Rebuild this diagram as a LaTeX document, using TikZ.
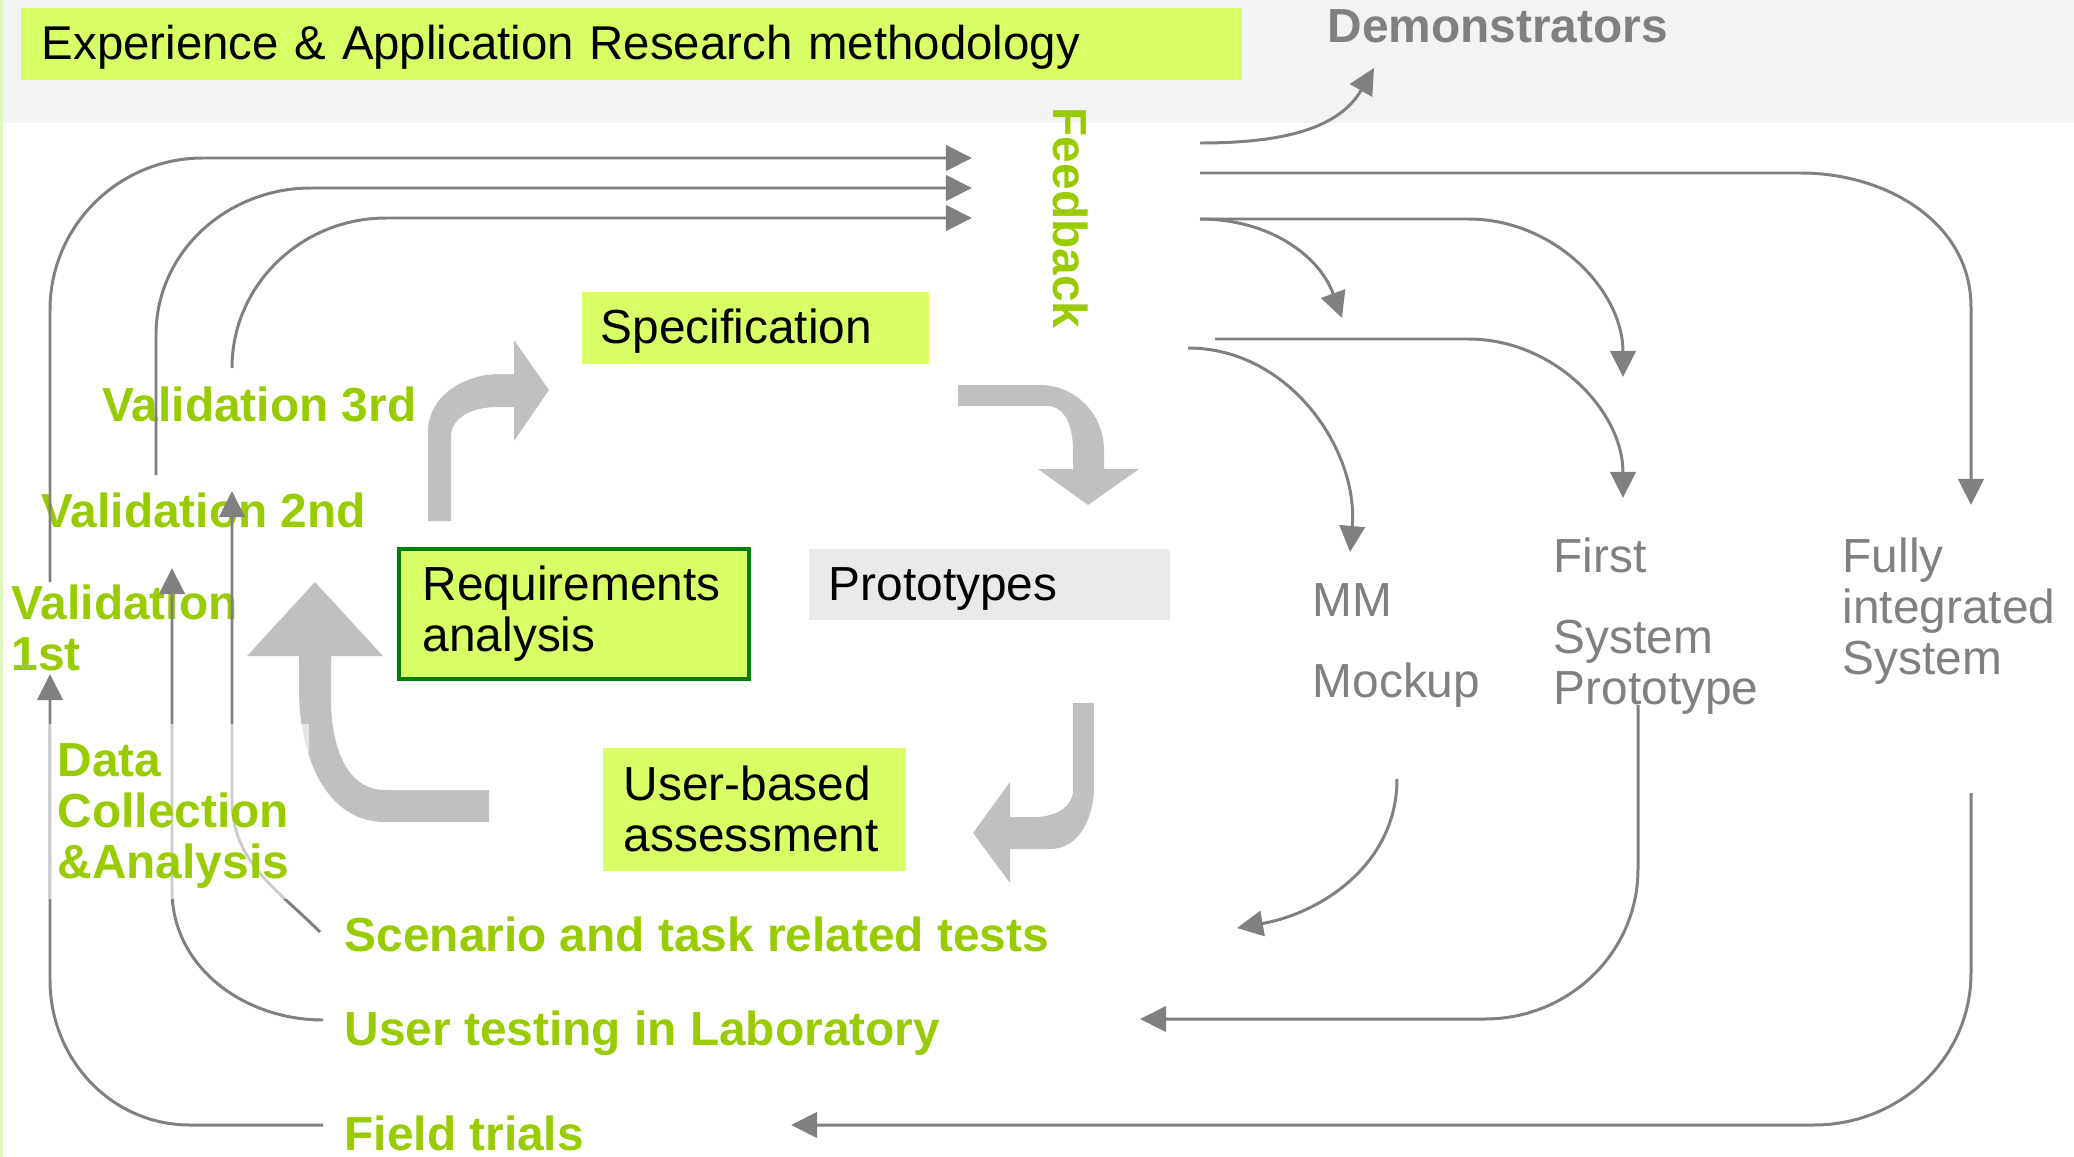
\documentclass[tikz,border=0pt]{standalone}
\usepackage{fontspec}
\setmainfont{Liberation Sans}
\usetikzlibrary{arrows.meta}

\definecolor{limefill}{RGB}{217,255,102}
\definecolor{limetext}{RGB}{153,204,0}
\definecolor{linegray}{RGB}{128,128,128}
\definecolor{blockgray}{RGB}{192,192,192}
\definecolor{protofill}{RGB}{233,233,233}
\definecolor{bandgray}{RGB}{243,243,243}
\definecolor{reqgreen}{RGB}{0,128,0}
\definecolor{edgegreen}{RGB}{225,245,190}

\newcommand{\diafont}{\fontsize{13.6pt}{14.5pt}\selectfont}

\tikzset{
  stagebox/.style={fill=limefill, anchor=north west, inner ysep=0pt, align=left, font=\diafont},
  oneline/.style={text height=11pt, text depth=2pt},
  phaselbl/.style={inner sep=0pt, anchor=base west, align=left, text=limetext, font=\diafont\bfseries},
  demolbl/.style={inner sep=0pt, anchor=base west, align=left, text=linegray, font=\diafont},
  feed/.style={draw=linegray, line width=0.85pt, -{Triangle[length=7.4pt,width=7.2pt]}},
  bigarrow/.style={fill=blockgray},
}

\begin{document}
\begin{tikzpicture}[x=0.01cm, y=0.01cm]
\useasboundingbox (0,0) rectangle (2074,-1157);

% background
\fill[bandgray] (0,0) rectangle (2074,-123);
\fill[edgegreen] (0,0) rectangle (3,-1157);

% boxes of the cycle
\node[stagebox, oneline, font=\fontsize{13.48pt}{14.5pt}\selectfont, minimum width=12.21cm, minimum height=0.72cm, text width=11.79cm, inner xsep=0.21cm] (title) at (20,-7) {Experience \& Application Research methodology};
\node[stagebox, oneline, minimum width=3.47cm, minimum height=0.72cm, text width=3.09cm, inner xsep=0.19cm] (spec) at (581,-291) {Specification};
\node[stagebox, draw=reqgreen, line width=1pt, minimum width=3.50cm, minimum height=1.30cm, text width=3.02cm, inner xsep=0.24cm] (req) at (397,-547) {Requirements\\analysis};
\node[stagebox, oneline, fill=protofill, minimum width=3.61cm, minimum height=0.71cm, text width=3.21cm, inner xsep=0.20cm] (proto) at (808,-548) {Prototypes};
\node[stagebox, minimum width=3.03cm, minimum height=1.23cm, text width=2.61cm, inner xsep=0.21cm] (assess) at (602,-747) {User-based\\assessment};

% labels (multi-line ones sit on their last line)
\node[demolbl, font=\diafont\bfseries] (demo) at (1327,-42) {Demonstrators};
\node[phaselbl, rotate=-90] (feedback) at (1053,-107) {Feedback};
\node[phaselbl] (val3) at (102,-421) {Validation 3rd};
\node[phaselbl] (val2) at (41,-527) {Validation 2nd};
\node[phaselbl] (val1) at (11,-670) {Validation\\1st};
\node[phaselbl] (scen) at (344,-951) {Scenario and task related tests};
\node[phaselbl] (lab) at (344,-1045) {User testing in Laboratory};
\node[phaselbl] (field) at (344,-1150) {Field trials};
\node[demolbl] (mock) at (1312,-697) {MM\\[8.5pt]Mockup};
\node[demolbl] (first) at (1553,-704) {First\\[8.5pt]System\\Prototype};
\node[demolbl] (fully) at (1842,-674) {Fully\\integrated\\System};

% feedback loops, left side
\coordinate (up1) at (50,-582);
\coordinate (up2) at (156,-475);
\coordinate (up3) at (232,-368);
\coordinate (fb1) at (972,-158);
\coordinate (fb2) at (972,-188);
\coordinate (fb3) at (972,-218);
\coordinate (lo1) at (323,-1125);
\coordinate (lo2) at (323,-1020);
\coordinate (lo3) at (320,-932);
\coordinate (v1) at (50,-674);
\coordinate (v2) at (172,-568);
\coordinate (v3) at (232,-491);

\draw[feed] (up1) -- ++(0,272) to[out=90,in=180] ++(153,152) -- (fb1);
\draw[feed] (up2) -- ++(0,140) to[out=90,in=180] ++(155,147) -- (fb2);
\draw[feed] (up3) to[out=90,in=180] ++(154,150) -- (fb3);
\draw[feed] (lo1) -- ++(-133,0) to[out=180,in=270] ++(-140,145) -- (v1);
\draw[feed] (lo2) to[out=180,in=270] ++(-151,130) -- (v2);
\draw[feed] (lo3) to[out=135,in=270] ++(-88,132) -- (v3);

% demonstrators, right side
\coordinate (out0) at (1200,-143);
\coordinate (out1) at (1200,-173);
\coordinate (out2) at (1200,-219);
\coordinate (out3) at (1215,-339);
\coordinate (out4) at (1188,-348);
\coordinate (demotip) at (1374,-68);
\coordinate (fullytip) at (1971,-505);
\coordinate (mmtip1) at (1342,-318);
\coordinate (firsttip1) at (1623,-377);
\coordinate (firsttip2) at (1623,-498);
\coordinate (mmtip2) at (1350,-552);
\coordinate (mmback) at (1397,-779);
\coordinate (firstback) at (1638,-705);
\coordinate (fullyback) at (1971,-793);
\coordinate (scenin) at (1237,-928);
\coordinate (labin) at (1140,-1019);
\coordinate (fieldin) at (791,-1125);

\draw[feed] (out0) to[out=0,in=240] (demotip);
\draw[feed] (out1) -- ++(601,0) to[out=0,in=90] ++(170,-134) -- (fullytip);
\draw[feed] (out2) to[out=0,in=110] (mmtip1);
\draw[feed] (out2) -- ++(268,0) to[out=0,in=90] (firsttip1);
\draw[feed] (out3) -- ++(253,0) to[out=0,in=90] (firsttip2);
\draw[feed] (out4) to[out=0,in=85] (mmtip2);
\draw[feed] (mmback) to[out=270,in=10] (scenin);
\draw[feed] (firstback) -- ++(0,-164) to[out=270,in=0] ++(-153,-150) -- (labin);
\draw[feed] (fullyback) -- ++(0,-180) to[out=270,in=0] ++(-157,-152) -- (fieldin);

% big arrows of the cycle
\fill[bigarrow] (428,-521) -- (428,-432) to[out=90,in=180] (500,-374) -- (514,-374) -- (514,-340) -- (549,-390) -- (514,-441) -- (514,-407) -- (497,-407) to[out=180,in=90] (451,-437) -- (451,-521) -- cycle;
\fill[bigarrow] (958,-385) -- (1040,-385) to[out=0,in=90] (1104,-450) -- (1104,-469) -- (1139,-469) -- (1088,-505) -- (1038,-469) -- (1073,-469) -- (1073,-450) to[out=90,in=0] (1047,-406) -- (958,-406) -- cycle;
\fill[bigarrow] (1073,-703) -- (1094,-703) -- (1094,-787) to[out=270,in=0] (1050,-849) -- (1010,-849) -- (1010,-883) -- (973,-833) -- (1010,-782) -- (1010,-817) -- (1035,-817) to[out=0,in=270] (1073,-790) -- cycle;
\fill[bigarrow] (489,-822) -- (385,-822) to[out=180,in=270] (299,-690) -- (299,-656) -- (247,-656) -- (315,-582) -- (383,-656) -- (331,-656) -- (331,-700) to[out=270,in=180] (385,-790) -- (489,-790) -- cycle;

% data collection, over the lines
\node[fill=white, fill opacity=0.6, inner sep=0pt, anchor=north west, minimum width=2.60cm, minimum height=1.75cm] (fade) at (48,-723) {};
\node[phaselbl] (data) at (57,-878) {Data\\Collection\\\&Analysis};

\end{tikzpicture}
\end{document}
